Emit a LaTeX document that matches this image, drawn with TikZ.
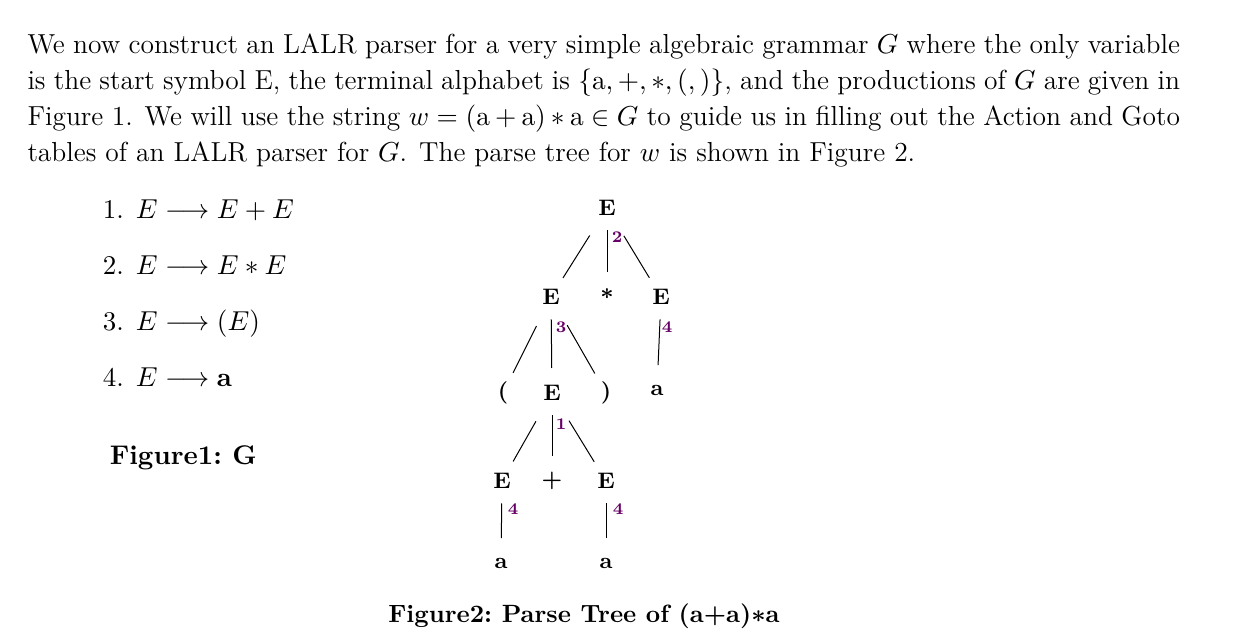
\documentclass[tikz,border=0pt]{standalone}
\usepackage{amsmath}
\begin{document}
\begin{tikzpicture}[x=0.4pt,y=-0.4pt,
  tn/.style={font=\fontsize{9}{11}\selectfont\bfseries,inner sep=2pt},
  lab/.style={font=\fontsize{6.5}{8}\selectfont\bfseries,text=violet!80!black,inner sep=0pt},
  ed/.style={line width=0.4pt},
  dg/.style={ed,shorten <=13pt,shorten >=9pt},
  vt/.style={ed,shorten <=9pt,shorten >=10pt},
  it/.style={anchor=base west,font=\fontsize{10.8}{13}\selectfont}]
\useasboundingbox (0,0) rectangle (1251,644);
\node[anchor=north west,text width=461pt,align=justify,inner sep=0pt,font=\fontsize{11}{14.4}\selectfont] (par) at (27,33)
{We now construct an LALR parser for a very simple algebraic grammar $G$ where the only variable is the start symbol E, the terminal alphabet is $\{\mathrm{a},+,*,(,)\}$, and the productions of $G$ are given in Figure 1. We will use the string $w=(\mathrm{a}+\mathrm{a})*\mathrm{a}\in G$ to guide us in filling out the Action and Goto tables of an LALR parser for $G$. The parse tree for $w$ is shown in Figure 2.};
\node[it] (p1) at (94,219) {1. $E\longrightarrow E+E$};
\node[it] (p2) at (94,275) {2. $E\longrightarrow E*E$};
\node[it] (p3) at (94,331) {3. $E\longrightarrow (E)$};
\node[it] (p4) at (94,387) {4. $E\longrightarrow \textbf{a}$};
\node[it,font=\fontsize{10.8}{13}\selectfont\bfseries] (f1) at (101,465) {Figure1:\ G};
\node[tn] (r) at (607,208) {E};
\node[tn] (e1) at (551,297) {E};
\node[tn] (st) at (607,297) {*};
\node[tn] (e2) at (661,297) {E};
\node[tn] (lp) at (503,393) {(};
\node[tn] (e3) at (552,393) {E};
\node[tn] (rp) at (606,393) {)};
\node[tn] (a1) at (657,390) {a};
\node[tn] (e4) at (502,481) {E};
\node[tn] (pl) at (552,481) {+};
\node[tn] (e5) at (606,481) {E};
\node[tn] (a2) at (501,563) {a};
\node[tn] (a3) at (606,563) {a};
\draw[dg] (r.center)--(e1.center);
\draw[vt] (r.center)--(st.center);
\draw[dg] (r.center)--(e2.center);
\draw[dg] (e1.center)--(lp.center);
\draw[vt] (e1.center)--(e3.center);
\draw[dg] (e1.center)--(rp.center);
\draw[vt] (e2.center)--(a1.center);
\draw[dg] (e3.center)--(e4.center);
\draw[vt] (e3.center)--(pl.center);
\draw[dg] (e3.center)--(e5.center);
\draw[vt] (e4.center)--(a2.center);
\draw[vt] (e5.center)--(a3.center);
\node[lab] (l2) at (617,237) {2};
\node[lab] (l3) at (561,327) {3};
\node[lab] (l4a) at (667,327) {4};
\node[lab] (l1) at (561,424) {1};
\node[lab] (l4b) at (513,509) {4};
\node[lab] (l4c) at (618,509) {4};
\node[font=\fontsize{10}{12}\selectfont\bfseries] (f2) at (584,616) {Figure2:\ Parse Tree of (a+a)$\boldsymbol{*}$a};
\end{tikzpicture}
\end{document}
